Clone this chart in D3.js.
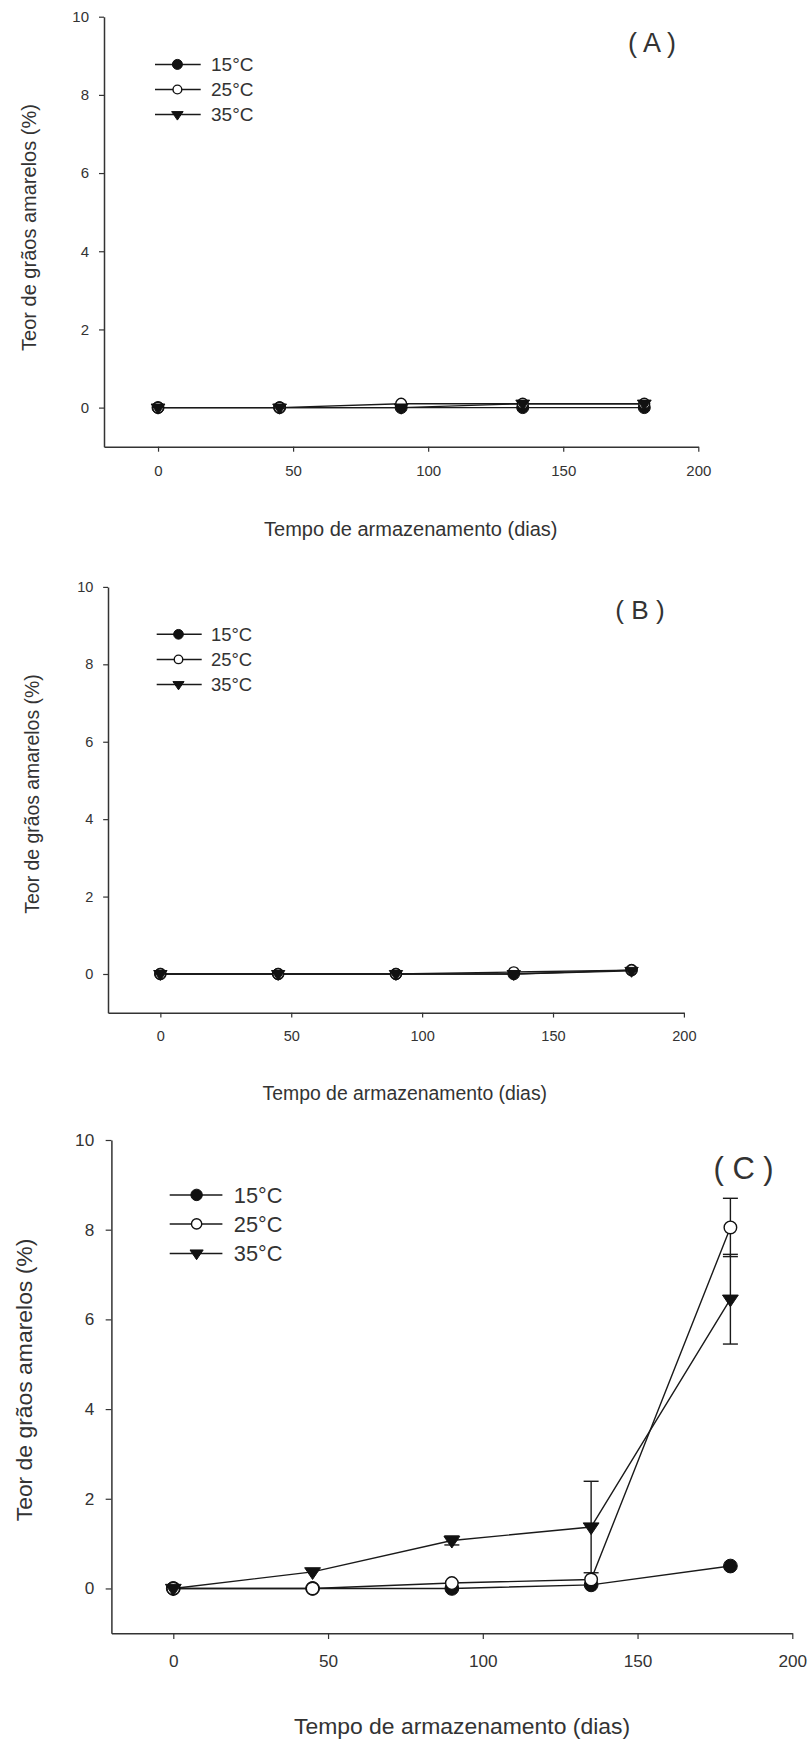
<!DOCTYPE html>
<html>
<head>
<meta charset="utf-8">
<script src="https://cdn.jsdelivr.net/npm/d3@7/dist/d3.min.js"></script>
<style>
  body { margin: 0; background: #fff; }
  text { font-family: "Liberation Sans", Arial, sans-serif; fill: #333; }
</style>
</head>
<body>
<svg id="chart" width="811" height="1740"></svg>
<script>
// storage time (days) and series
const days = [0, 45, 90, 135, 180];
const seriesLabels = ["15°C", "25°C", "35°C"];
const xTicks = [0, 50, 100, 150, 200];
const yTicks = [0, 2, 4, 6, 8, 10];

// panel A
const a15 = [0, 0, 0, 0, 0];
const a25 = [0, 0, 0.1, 0.1, 0.1];
const a35 = [0, 0, 0, 0.1, 0.1];

// panel B
const b15 = [0, 0, 0, 0, 0.1];
const b25 = [0, 0, 0, 0.05, 0.1];
const b35 = [0, 0, 0, 0, 0.08];

// panel C (with error bars)
const c15 = [0, 0, 0, 0.08, 0.5];
const c25 = [0, 0, 0.12, 0.2, 8.05];
const c35 = [0, 0.37, 1.07, 1.37, 6.45];
const c15err = [0, 0, 0, 0, 0];
const c25err = [0, 0, 0, 0, 0.65];
const c35err = [0, 0, 0.1, 1.02, 1.0];

const svg = d3.select("#chart");

const panels = [
    { name: "( A )", series: [a15, a25, a35], errs: null,
      left: 104, right: 698.3, top: 16.7, bottom: 446.7, k: 1.0,
      legend: { x1: 155, x2: 200.7, mx: 177.4, tx: 211, ys: [64.4, 89.5, 114.6] },
      label: { x: 652, y: 42 }, yTitle: { x: 28.5, y: 227.5 }, xTitle: { x: 410.8, y: 529 } },
    { name: "( B )", series: [b15, b25, b35], errs: null,
      left: 108, right: 683.9, top: 586.9, bottom: 1012.7, k: 0.97,
      legend: { x1: 156.7, x2: 201.7, mx: 178.5, tx: 211, ys: [634.3, 659.4, 684.5] },
      label: { x: 640, y: 609 }, yTitle: { x: 32, y: 794 }, xTitle: { x: 404.8, y: 1093.4 } },
    { name: "( C )", series: [c15, c25, c35], errs: [c15err, c25err, c35err],
      left: 111.4, right: 792.3, top: 1140, bottom: 1633.3, k: 1.146,
      legend: { x1: 169.7, x2: 222.4, mx: 196.6, tx: 233.8, ys: [1194.9, 1223.9, 1253.4] },
      label: { x: 743.6, y: 1168 }, yTitle: { x: 24.3, y: 1380 }, xTitle: { x: 462, y: 1725.8 } }
];

function drawMarker(g, i, cx, cy, r) {
    if (i === 0) {
        g.append("circle").attr("cx", cx).attr("cy", cy).attr("r", r)
            .attr("fill", "#111").attr("stroke", "#111").attr("stroke-width", 1);
    } else if (i === 1) {
        g.append("circle").attr("cx", cx).attr("cy", cy).attr("r", r - 0.6)
            .attr("fill", "#fff").attr("stroke", "#111").attr("stroke-width", 1.4);
    } else {
        const w = r * 1.15;
        g.append("path")
            .attr("d", `M${cx - w},${cy - r * 0.6}L${cx + w},${cy - r * 0.6}L${cx},${cy + r * 1.1}Z`)
            .attr("fill", "#111").attr("stroke", "#111").attr("stroke-width", 1);
    }
}

panels.forEach(p => {
    const k = p.k;
    const g = svg.append("g");
    const x = d3.scaleLinear().domain([-20, 200]).range([p.left, p.right]);
    const y = d3.scaleLinear().domain([-1, 10]).range([p.bottom, p.top]);

    const xAxis = g.append("g")
        .attr("transform", `translate(0,${p.bottom})`)
        .call(d3.axisBottom(x).tickValues(xTicks).tickSize(5 * k).tickSizeOuter(0).tickPadding(13.5 * k));
    const yAxis = g.append("g")
        .attr("transform", `translate(${p.left},0)`)
        .call(d3.axisLeft(y).tickValues(yTicks).tickSize(5 * k).tickSizeOuter(0).tickPadding(10 * k));
    [xAxis, yAxis].forEach(a => {
        a.select(".domain").attr("stroke", "#333").attr("stroke-width", 1.5);
        a.selectAll(".tick line").attr("stroke", "#333").attr("stroke-width", 1.2);
        a.selectAll(".tick text").attr("fill", "#333")
            .style("font-family", '"Liberation Sans", Arial, sans-serif')
            .style("font-size", (15 * k) + "px");
    });

    // lines
    const line = d3.line().x(d => x(d[0])).y(d => y(d[1]));
    p.series.forEach(vals => {
        g.append("path")
            .datum(days.map((d, j) => [d, vals[j]]))
            .attr("d", line)
            .attr("fill", "none")
            .attr("stroke", "#1a1a1a")
            .attr("stroke-width", 1.4);
    });

    // error bars
    if (p.errs) {
        p.errs.forEach((errs, i) => {
            days.forEach((d, j) => {
                const e = errs[j];
                if (e <= 0) return;
                const v = p.series[i][j];
                const cx = x(d), cw = 7.5;
                g.append("line").attr("x1", cx).attr("x2", cx)
                    .attr("y1", y(v - e)).attr("y2", y(v + e))
                    .attr("stroke", "#1a1a1a").attr("stroke-width", 1.4);
                [v - e, v + e].forEach(t => {
                    g.append("line").attr("x1", cx - cw).attr("x2", cx + cw)
                        .attr("y1", y(t)).attr("y2", y(t))
                        .attr("stroke", "#1a1a1a").attr("stroke-width", 1.4);
                });
            });
        });
    }

    // markers
    const r = 6 * k;
    p.series.forEach((vals, i) => {
        days.forEach((d, j) => drawMarker(g, i, x(d), y(vals[j]), r));
    });

    // legend
    const L = p.legend;
    seriesLabels.forEach((lab, i) => {
        const ly = L.ys[i];
        g.append("line").attr("x1", L.x1).attr("x2", L.x2).attr("y1", ly).attr("y2", ly)
            .attr("stroke", "#1a1a1a").attr("stroke-width", 1.5);
        drawMarker(g, i, L.mx, ly, 5 * k);
        g.append("text").attr("x", L.tx).attr("y", ly + 6.8 * k)
            .style("font-size", (19 * k) + "px").text(lab);
    });

    // panel letter
    g.append("text").attr("x", p.label.x).attr("y", p.label.y + 10 * k)
        .attr("text-anchor", "middle").style("font-size", (27 * k) + "px").text(p.name);

    // axis titles
    g.append("text").attr("x", p.xTitle.x).attr("y", p.xTitle.y + 7 * k)
        .attr("text-anchor", "middle").style("font-size", (20 * k) + "px")
        .text("Tempo de armazenamento (dias)");
    g.append("text")
        .attr("transform", `translate(${p.yTitle.x + 7 * k},${p.yTitle.y}) rotate(-90)`)
        .attr("text-anchor", "middle").style("font-size", (20 * k) + "px")
        .text("Teor de grãos amarelos (%)");
});
</script>
</body>
</html>
